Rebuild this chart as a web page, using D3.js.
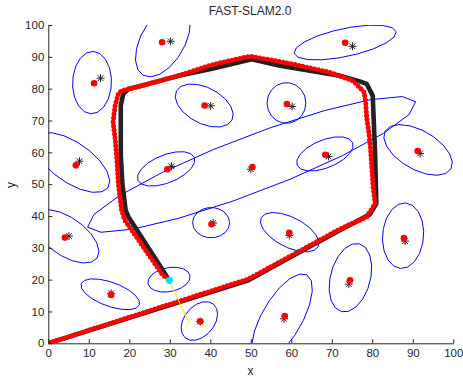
<!DOCTYPE html>
<html>
<head>
<meta charset="utf-8">
<script src="https://cdn.jsdelivr.net/npm/d3@7"></script>
<style>
  body { margin: 0; background: #fff; }
  svg { display: block; font-family: "Liberation Sans", Arial, Helvetica, sans-serif; }
  .axis path, .axis line { stroke: #262626; }
  .axis text { fill: #262626; font-size: 11.5px; }
</style>
</head>
<body>
<div id="chart"></div>
<script>
var width = 463;
var height = 377;

// true landmark positions (black asterisks)
var landmarkTrue = [[30.2,94.9],[12.9,83.3],[75.1,93.3],[40.1,74.6],[60.2,74.4],[7.7,57.2],
  [30.4,55.6],[50.0,54.7],[69.2,58.7],[91.8,59.6],[5.1,33.7],[40.7,37.8],[59.5,33.9],
  [88.1,32.1],[15.5,15.7],[37.5,6.8],[58.2,7.7],[74.2,18.6]];

// estimated landmark positions (red)
var landmarkEst = [[28.1,94.6],[11.3,81.7],[73.3,94.4],[38.6,74.7],[58.9,75.2],[6.8,55.9],
  [29.4,54.7],[50.4,55.4],[68.4,59.2],[91.2,60.4],[4.1,33.2],[40.3,37.4],[59.5,34.7],
  [87.8,33.1],[15.5,15.2],[37.5,6.9],[58.4,8.6],[74.5,19.8]];

// covariance ellipses: centre x, centre y, first semi-axis (x,y), second semi-axis (x,y)
var ellipses = [
  [28.3,95.1,4.9,10.9,4.7,-3.4],
  [10.8,81.9,0.3,9.8,4.8,-0.3],
  [73.3,94.5,12.6,3.4,0.7,-4.3],
  [38.5,74.7,6.85,-4.6,-2.09,-4.98],
  [58.8,75.5,4.8,0,0,6.4],
  [5.85,56.8,8.9,-7.9,-2.83,-5.14],
  [29.1,54.8,6.98,3.58,1.29,-4.07],
  [50.2,56.2,40.5,19.7,2.5,-8.2],
  [68.3,59.5,6.87,3.52,1.29,-4.07],
  [91.3,60.75,8.12,-5.96,-2.41,-5.29],
  [4.37,33.6,7.69,-6.83,-2.69,-4.88],
  [40.2,37.9,4.57,0,0,4.76],
  [59.6,34.9,7.04,-4.55,-1.68,-4.19],
  [87.6,33.8,0.62,10.3,5.06,-0.47],
  [15.3,15.4,7.19,-3.32,-1.01,-3.54],
  [37.3,7.0,3.49,5.29,2.84,-3.02],
  [57.7,7.93,6.17,13.57,4.28,-3.13],
  [74.6,20.6,2.22,10.66,4.77,-1.6],
  [29.8,20.0,5.19,1.25,0.55,-3.7]
];

// true robot path (black)
var truePath = [[0,0],[49.4,19.8],[62.1,28.7],[72,35.5],[79.4,40.5],[81.0,43.9],[80.7,59.6],
  [80.1,77.8],[78.6,81.5],[76.9,82.3],[72,84.1],[57.2,87.2],[50.2,89.2],[40.7,86.3],
  [32.5,84.1],[19.8,79.9],[18.5,78.4],[17.9,74.7],[17.9,59],[18.3,50],[19.1,41.8],
  [19.8,39.7],[28.8,21.9],[29.8,19.8]];

// estimated robot path (red)
var estPath = [[0,0],[49.4,20.2],[62.1,29.0],[72,35.9],[78.6,39.7],[80.7,43.9],[80.2,49.1],
  [79.6,60.6],[79.2,65.8],[78.6,71],[78.4,75.2],[78.0,78.9],[75.3,82.4],[69.6,85.1],
  [59.7,87.9],[49.8,90.2],[40.7,87.6],[32.1,84.1],[22.2,80.6],[18.1,79.4],[17.3,78.4],
  [16.5,74.7],[16.0,69.5],[16.5,64.3],[16.9,58.5],[17.3,50.2],[18.1,41.8],[18.9,38.7],
  [28.0,21.9],[29.2,20.4]];

var robotPos = [29.9, 19.8];
var observation = [[30.0,19.3],[34.8,6.3]];
var ticks = [0,10,20,30,40,50,60,70,80,90,100];

var xScale = d3.scaleLinear().domain([0, 100]).range([48.3, 453.3]);
var yScale = d3.scaleLinear().domain([0, 100]).range([343.3, 25]);

var svg = d3.select('#chart').append('svg')
  .attr('width', width)
  .attr('height', height);

svg.append('defs').append('clipPath').attr('id', 'plotclip')
  .append('rect')
  .attr('x', xScale(0)).attr('y', yScale(100))
  .attr('width', xScale(100) - xScale(0))
  .attr('height', yScale(0) - yScale(100));

var plot = svg.append('g').attr('clip-path', 'url(#plotclip)');

var line = d3.line().x(d => xScale(d[0])).y(d => yScale(d[1]));

// ellipses
var nSeg = 18;
plot.selectAll('.ell')
  .data(ellipses)
  .enter()
  .append('path')
  .attr('class', 'ell')
  .attr('d', e => {
    var pts = d3.range(nSeg + 1).map(k => {
      var t = 2 * Math.PI * k / nSeg;
      return [e[0] + Math.cos(t) * e[2] + Math.sin(t) * e[4],
              e[1] + Math.cos(t) * e[3] + Math.sin(t) * e[5]];
    });
    return line(pts);
  })
  .attr('fill', 'none')
  .attr('stroke', '#0000ff')
  .attr('stroke-width', 1);

// true path
plot.append('path')
  .attr('d', line(truePath))
  .attr('fill', 'none')
  .attr('stroke', '#222')
  .attr('stroke-width', 4.6)
  .attr('stroke-linejoin', 'round')
  .attr('stroke-linecap', 'round');

// estimated path as dots
plot.append('path')
  .attr('d', line(estPath))
  .attr('fill', 'none')
  .attr('stroke', '#ff0000')
  .attr('stroke-width', 5)
  .attr('stroke-linecap', 'round')
  .attr('stroke-dasharray', '0 4');

// asterisks
var ast = 4;
plot.selectAll('.lm')
  .data(landmarkTrue)
  .enter()
  .append('path')
  .attr('class', 'lm')
  .attr('transform', d => 'translate(' + xScale(d[0]) + ',' + yScale(d[1]) + ')')
  .attr('d', 'M' + (-ast) + ',0H' + ast + 'M0,' + (-ast) + 'V' + ast +
    'M' + (-ast * 0.72) + ',' + (-ast * 0.72) + 'L' + (ast * 0.72) + ',' + (ast * 0.72) +
    'M' + (-ast * 0.72) + ',' + (ast * 0.72) + 'L' + (ast * 0.72) + ',' + (-ast * 0.72))
  .attr('stroke', '#222')
  .attr('stroke-width', 1)
  .attr('fill', 'none');

plot.selectAll('.est')
  .data(landmarkEst)
  .enter()
  .append('circle')
  .attr('class', 'est')
  .attr('cx', d => xScale(d[0]))
  .attr('cy', d => yScale(d[1]))
  .attr('r', 3.3)
  .attr('fill', '#ff0000');

// observation line and robot
plot.append('path')
  .attr('d', line(observation))
  .attr('stroke', '#f2e600')
  .attr('stroke-width', 1)
  .attr('fill', 'none');

plot.append('circle')
  .attr('cx', xScale(robotPos[0]))
  .attr('cy', yScale(robotPos[1]))
  .attr('r', 3.6)
  .attr('fill', '#00e5ee');

// axes
var xAxis = d3.axisBottom(xScale).tickValues(ticks).tickSize(-4).tickSizeOuter(0).tickPadding(6);
svg.append('g')
  .attr('class', 'axis')
  .attr('transform', 'translate(0,' + yScale(0) + ')')
  .call(xAxis);

var yAxis = d3.axisLeft(yScale).tickValues(ticks).tickSize(-4).tickSizeOuter(0).tickPadding(4);
svg.append('g')
  .attr('class', 'axis')
  .attr('transform', 'translate(' + xScale(0) + ',0)')
  .call(yAxis);

svg.selectAll('.axis').attr('font-family', null).attr('font-size', null);

svg.append('text')
  .attr('x', 250)
  .attr('y', 15)
  .attr('text-anchor', 'middle')
  .attr('font-size', 12)
  .attr('fill', '#262626')
  .text('FAST-SLAM2.0');

svg.append('text')
  .attr('x', 250.5)
  .attr('y', 375)
  .attr('text-anchor', 'middle')
  .attr('font-size', 12)
  .attr('fill', '#262626')
  .text('x');

svg.append('text')
  .attr('transform', 'translate(15,185) rotate(-90)')
  .attr('text-anchor', 'middle')
  .attr('font-size', 12)
  .attr('fill', '#262626')
  .text('y');
</script>
</body>
</html>
